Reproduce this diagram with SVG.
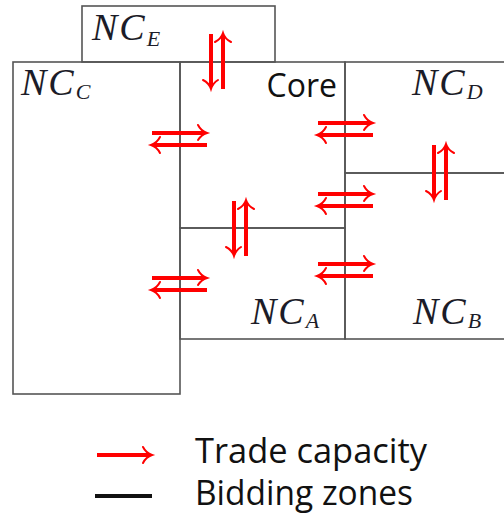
<svg xmlns="http://www.w3.org/2000/svg" xmlns:xlink="http://www.w3.org/1999/xlink" width="504" height="518" viewBox="0 0 504 518">
<style>
.zone{fill:none;stroke:#555;stroke-width:1.6}
.shaft{stroke:#ff0000;stroke-width:4;fill:none}
.head{stroke:#ff0000;stroke-width:2;fill:none;stroke-linecap:round}
.nc{font-family:"Liberation Serif",serif;font-style:italic;fill:#1c1c28;font-size:38px;letter-spacing:2px}
.sub{font-size:22px;letter-spacing:0}
.sans{font-family:"Open Sans","Liberation Sans",sans-serif;fill:#111}
</style>
<defs>
<g id="pair">
<path class="shaft" d="M-27,-6 H26"/>
<path class="head" d="M19,-14 Q22,-8 28,-6 Q22,-4 19,1"/>
<path class="shaft" d="M-26,6 H28"/>
<path class="head" d="M-19,-2 Q-22,4 -28,6 Q-22,8 -19,14"/>
</g>
</defs>
<rect width="504" height="518" fill="#fff"/>
<g id="NC_E"><rect class="zone" x="82" y="6" width="193" height="56"/>
<text class="nc" x="92" y="40">NC<tspan class="sub" dy="6">E</tspan></text></g>
<g id="NC_C"><rect class="zone" x="13" y="62" width="167" height="332"/>
<text class="nc" x="21" y="95">NC<tspan class="sub" dy="4">C</tspan></text></g>
<g id="Core"><rect class="zone" x="180" y="62" width="165" height="166"/>
<text class="sans" x="337" y="97" font-size="32" text-anchor="end">Core</text></g>
<g id="NC_A"><rect class="zone" x="180" y="228" width="165" height="111"/>
<text class="nc" x="251" y="324">NC<tspan class="sub" dy="4">A</tspan></text></g>
<g id="NC_D"><rect class="zone" x="345" y="62" width="170" height="111"/>
<text class="nc" x="412" y="95">NC<tspan class="sub" dy="4">D</tspan></text></g>
<g id="NC_B"><rect class="zone" x="345" y="173" width="170" height="166"/>
<text class="nc" x="413" y="324">NC<tspan class="sub" dy="4">B</tspan></text></g>
<g id="connectors">
<use xlink:href="#pair" href="#pair" transform="translate(179,139)"/>
<use xlink:href="#pair" href="#pair" transform="translate(179,284)"/>
<use xlink:href="#pair" href="#pair" transform="translate(345,129)"/>
<use xlink:href="#pair" href="#pair" transform="translate(345,200)"/>
<use xlink:href="#pair" href="#pair" transform="translate(345,270)"/>
<use xlink:href="#pair" href="#pair" transform="matrix(0,1,1,0,217,61)"/>
<use xlink:href="#pair" href="#pair" transform="matrix(0,1,1,0,440,172)"/>
<use xlink:href="#pair" href="#pair" transform="matrix(0,1,1,0,240,228)"/>
</g>
<g id="legend">
<path class="shaft" d="M97,455 H150"/>
<path class="head" d="M143,447 Q146,453 152,455 Q146,457 143,463"/>
<path d="M95,496 H152" stroke="#111" stroke-width="4"/>
<text class="sans" x="195" y="463" font-size="34" textLength="232" lengthAdjust="spacingAndGlyphs">Trade capacity</text>
<text class="sans" x="195" y="505" font-size="34" textLength="218" lengthAdjust="spacingAndGlyphs">Bidding zones</text>
</g>
</svg>
